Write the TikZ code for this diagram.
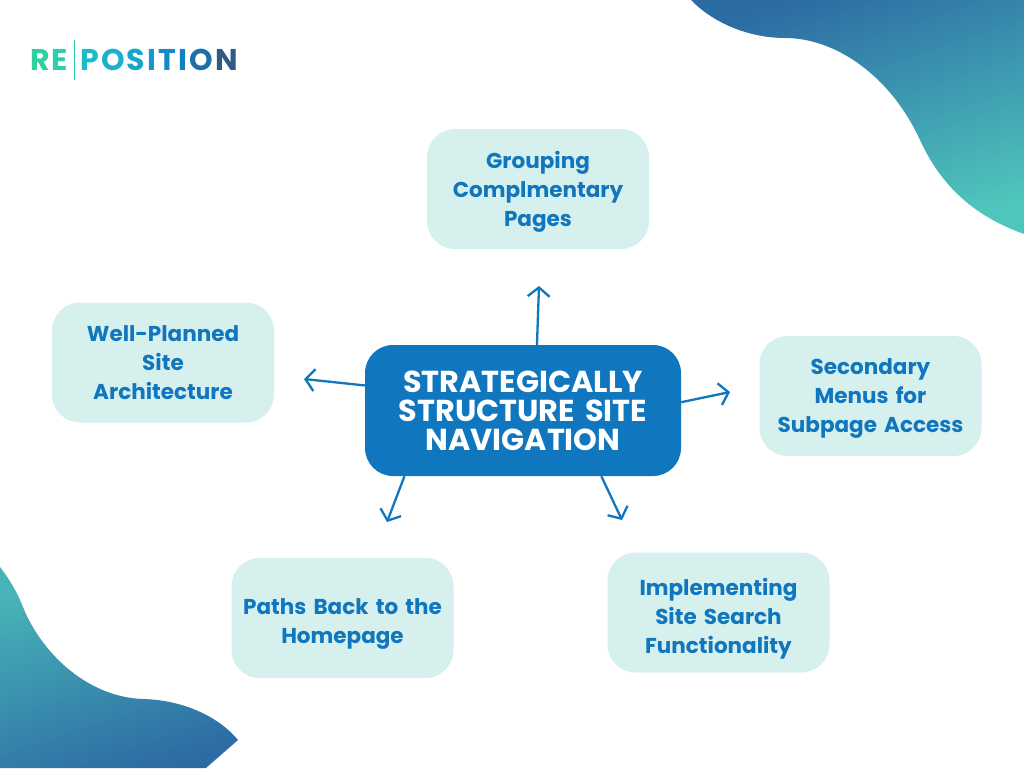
\documentclass[tikz,border=0pt]{standalone}
\usepackage{fontspec}
\setmainfont{Poppins}
\usetikzlibrary{arrows.meta,positioning}
\definecolor{hubblue}{HTML}{1076BD}
\definecolor{palebox}{HTML}{D6F0EE}
\definecolor{blobdark}{HTML}{2C6CA4}
\definecolor{blobteal}{HTML}{4FC6BC}
\definecolor{blobfade}{HTML}{49B4B8}
\definecolor{lgA}{HTML}{2FD09E}
\definecolor{lgB}{HTML}{2BCFAE}
\definecolor{lgC}{HTML}{1FBAC8}
\definecolor{lgD}{HTML}{1CB0CC}
\definecolor{lgE}{HTML}{18A5CC}
\definecolor{lgF}{HTML}{1498CC}
\definecolor{lgG}{HTML}{1289C8}
\definecolor{lgH}{HTML}{1080BF}
\definecolor{lgI}{HTML}{1D6FA8}
\definecolor{lgJ}{HTML}{2F5B88}
\newcommand{\firstline}[1]{\rule{0pt}{#1pt}}
\newcommand{\logoletter}[2]{\textcolor{#1}{#2}\kern2.2pt}

\begin{document}
\begin{tikzpicture}[
    x=1pt,y=-1pt,
    topic/.style={rectangle,fill=palebox,rounded corners=28pt,minimum width=222pt,minimum height=120pt,
      inner sep=0pt,text width=215pt,align=center,text=hubblue,font=\fontsize{21.5}{29}\selectfont\bfseries},
    hub/.style={rectangle,fill=hubblue,rounded corners=28pt,minimum width=316pt,minimum height=131pt,
      inner sep=0pt,text width=310pt,align=center,text=white,font=\fontsize{30.3}{29}\selectfont\bfseries},
    logotext/.style={inner sep=0pt,font=\fontsize{30}{30}\selectfont\bfseries},
    flow/.style={draw=hubblue,line width=2.3pt,-{Straight Barb[length=9pt,width=22pt,line width=2.3pt]}}
  ]
    \useasboundingbox (0,0) rectangle (1024,768);

    % Corner blobs
    \shade[top color=blobdark,bottom color=blobteal,shading angle=18]
      (691,0) .. controls (710,20) and (745,38) .. (785,38)
      .. controls (835,38) and (890,75) .. (920,140)
      .. controls (945,195) and (985,220) .. (1024,234) -- (1024,0) -- cycle;
    \shade[top color=blobfade,bottom color=blobdark,shading angle=18]
      (0,567) .. controls (10,580) and (17,592) .. (23,607)
      .. controls (40,650) and (85,697) .. (143,699)
      .. controls (185,700) and (220,718) .. (238,740) -- (206,768) -- (0,768) -- cycle;

    % Logo
    \node[logotext,anchor=east] (logoA) at (70.5,60) {\logoletter{lgA}{R}\logoletter{lgB}{E}};
    \node[logotext,anchor=west] (logoB) at (80,60) {\logoletter{lgC}{P}\logoletter{lgD}{O}\logoletter{lgE}{S}\logoletter{lgF}{I}\logoletter{lgG}{T}\logoletter{lgH}{I}\logoletter{lgI}{O}\logoletter{lgJ}{N}};
    \coordinate (barA) at (74,40);
    \coordinate (barB) at (74,80);
    \draw[lgB,line width=1pt] (barA) -- (barB);

    % Centre
    \node[hub] (centre) at (523,410.5) {STRATEGICALLY\\STRUCTURE SITE\\NAVIGATION};

    % Topics
    \node[topic] (grouping) at (538,189) {\firstline{23}Grouping\\Complmentary\\Pages};
    \node[topic] (architecture) at (163,362.5) {Well-Planned\\Site\\Architecture};
    \node[topic] (menus) at (870.5,396) {\firstline{21}Secondary\\Menus for\\Subpage Access};
    \node[topic] (paths) at (342.5,618) {\firstline{28}Paths Back to the\\Homepage};
    \node[topic] (search) at (718.5,612.5) {\firstline{29}Implementing\\Site Search\\Functionality};

    % Arrow ends
    \coordinate (tipN) at (539,286);
    \coordinate (tipW) at (304,379);
    \coordinate (tipE) at (730,392);
    \coordinate (tipSW) at (387,522);
    \coordinate (tipSE) at (622,520);

    % Arrows
    \draw[flow] (centre.78.8) -- (tipN);
    \draw[flow] (centre.171.9) -- (tipW);
    \draw[flow] (centre.3.4) -- (tipE);
    \draw[flow] (centre.209.5) -- (tipSW);
    \draw[flow] (centre.320.3) -- (tipSE);
\end{tikzpicture}
\end{document}
